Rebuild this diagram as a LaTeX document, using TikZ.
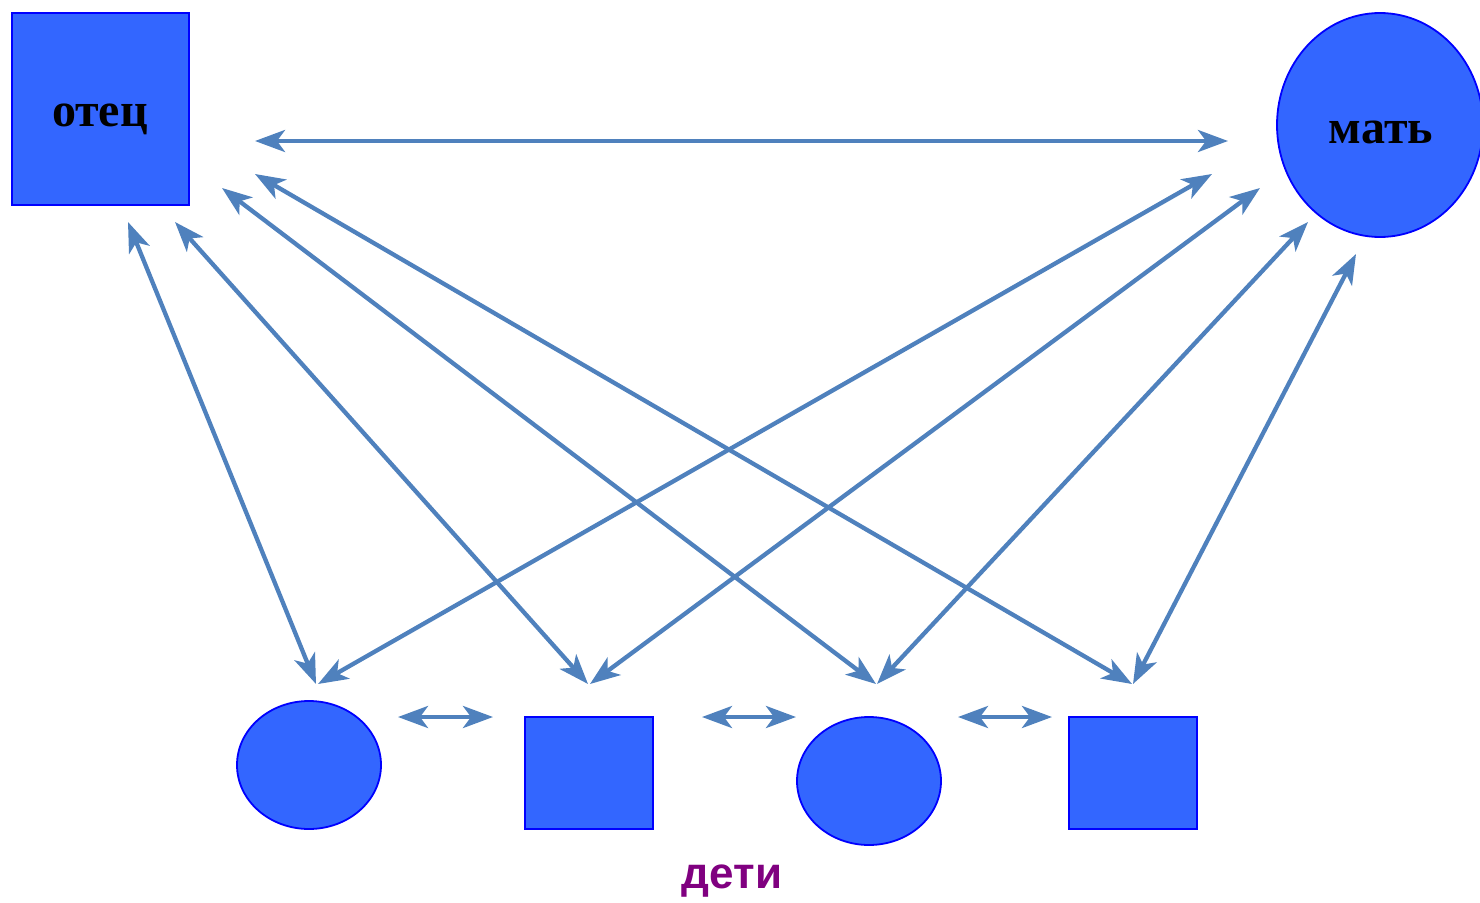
\documentclass[tikz,border=0pt]{standalone}
\usepackage{fontspec}
\setmainfont{Liberation Serif}
\newfontfamily\sansbold{Liberation Sans}[BoldFont={* Bold}]
\usetikzlibrary{arrows.meta,shapes.geometric}
\definecolor{shapefill}{HTML}{3366FF}
\definecolor{shapeline}{HTML}{0000FF}
\definecolor{arrowcol}{HTML}{4F81BD}
\definecolor{kidtext}{HTML}{800080}
\tikzset{
  sq/.style={draw=shapeline, fill=shapefill, line width=1.8pt, rectangle, inner sep=0pt},
  ell/.style={draw=shapeline, fill=shapefill, line width=1.8pt, ellipse, inner sep=0pt},
  link/.style={draw=arrowcol, line width=4.3pt,
    {Stealth[length=30pt,width=22pt,inset=8pt]}-{Stealth[length=30pt,width=22pt,inset=8pt]}},
  parent/.style={font=\fontsize{48}{56}\selectfont\bfseries, text=black}
}
\begin{document}
\begin{tikzpicture}[x=1pt,y=-1pt]
\useasboundingbox (0,0) rectangle (1480,902);
% parents
\node[sq, minimum width=177pt, minimum height=192pt] (father) at (100.5,109) {};
\node[parent] (fathertext) at (100,119) {отец};
\node[ell, minimum width=206pt, minimum height=224pt] (mother) at (1380,125) {};
\node[parent] (mothertext) at (1381,132) {мать};
% children
\node[ell, minimum width=144pt, minimum height=128pt] (c1) at (309,765) {};
\node[sq, minimum width=128pt, minimum height=112pt] (c2) at (589,773) {};
\node[ell, minimum width=144pt, minimum height=128pt] (c3) at (869,781) {};
\node[sq, minimum width=128pt, minimum height=112pt] (c4) at (1133,773) {};
\node[font=\sansbold\fontsize{44}{52}\selectfont\bfseries, text=kidtext] (kids) at (732,881) {дети};
% arrow end points
\coordinate (ft) at (255,141);
\coordinate (mt) at (1228,141);
\coordinate (f1) at (128,222);
\coordinate (f2) at (175,222);
\coordinate (f3) at (222,188);
\coordinate (f4) at (255,174);
\coordinate (m1) at (1212,174);
\coordinate (m2) at (1260,188);
\coordinate (m3) at (1308,222);
\coordinate (m4) at (1356,254);
\coordinate (k1f) at (316,684);
\coordinate (k1m) at (318,684);
\coordinate (k2f) at (588,684);
\coordinate (k2m) at (590,684);
\coordinate (k3f) at (876,684);
\coordinate (k3m) at (877,684);
\coordinate (k4f) at (1132,684);
\coordinate (k4m) at (1133,684);
\coordinate (h1a) at (398,717);
\coordinate (h1b) at (493,717);
\coordinate (h2a) at (702,717);
\coordinate (h2b) at (796,717);
\coordinate (h3a) at (958,717);
\coordinate (h3b) at (1052,717);
% connectors
\draw[link] (ft) -- (mt);
\draw[link] (f1) -- (k1f);
\draw[link] (f2) -- (k2f);
\draw[link] (f3) -- (k3f);
\draw[link] (f4) -- (k4f);
\draw[link] (m1) -- (k1m);
\draw[link] (m2) -- (k2m);
\draw[link] (m3) -- (k3m);
\draw[link] (m4) -- (k4m);
\draw[link] (h1a) -- (h1b);
\draw[link] (h2a) -- (h2b);
\draw[link] (h3a) -- (h3b);
\end{tikzpicture}
\end{document}
